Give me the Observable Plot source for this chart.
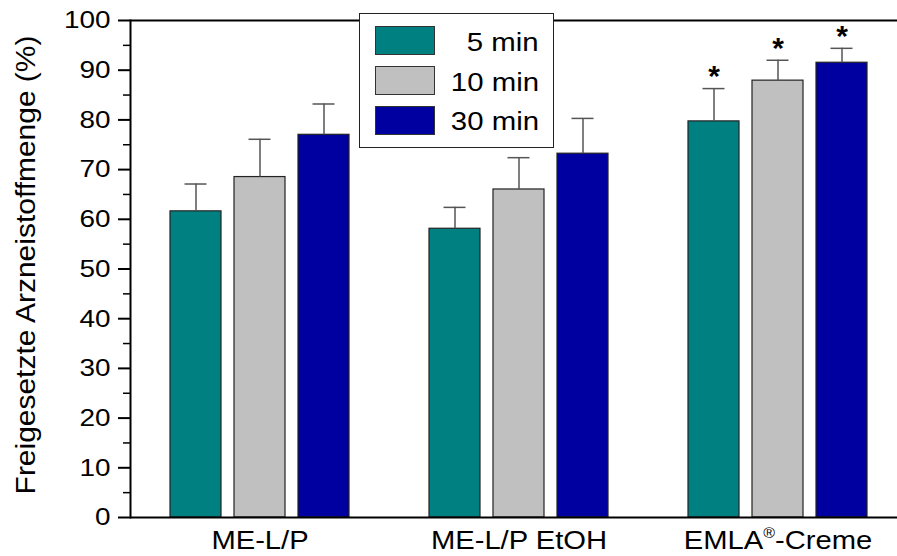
<!DOCTYPE html>
<html><head><meta charset="utf-8">
<script src="https://cdn.jsdelivr.net/npm/d3@7"></script>
<script src="https://cdn.jsdelivr.net/npm/@observablehq/plot@0.6"></script>
<style>
body{margin:0;background:#fff;font-family:"Liberation Sans",Arial,sans-serif;}
#wrap{position:relative;width:897px;height:556px;overflow:hidden;}
#legend{position:absolute;left:359px;top:13px;width:195px;height:135px;background:#fff;border:1.5px solid #222;box-sizing:border-box;}
.sw{position:absolute;left:15px;width:60px;height:29px;box-sizing:border-box;border:1.2px solid #333;}
.lb{position:absolute;right:14px;font-size:26px;line-height:30px;color:#000;transform:scaleX(1.13);transform-origin:right center;white-space:nowrap;}
</style></head>
<body>
<div id="wrap"><div id="legend"></div></div>
<script>
const groups = ["ME-L/P", "ME-L/P EtOH", "EMLA®-Creme"];
const times = ["5 min", "10 min", "30 min"];
const colors = ["#008080", "#C0C0C0", "#0000A0"];
const mean5 = [61.6, 58.1, 79.7];
const mean10 = [68.5, 66.0, 87.9];
const mean30 = [77.0, 73.2, 91.5];
const sd5 = [5.5, 4.3, 6.6];
const sd10 = [7.6, 6.4, 4.1];
const sd30 = [6.2, 7.1, 2.9];
const significant = [false, false, true];
const majorTicks = [0, 10, 20, 30, 40, 50, 60, 70, 80, 90, 100];
const minorTicks = [5, 15, 25, 35, 45, 55, 65, 75, 85, 95];
const yLabel = "Freigesetzte Arzneistoffmenge (%)";

const means = [mean5, mean10, mean30];
const sds = [sd5, sd10, sd30];
const rows = groups.flatMap((g, i) => times.map((t, j) => ({
  group: g, time: t, mean: means[j][i], top: means[j][i] + sds[j][i], sig: significant[i]
})));

const chart = Plot.plot({
  width: 897, height: 556,
  marginLeft: 130, marginRight: 0, marginTop: 20, marginBottom: 39,
  style: {fontFamily: '"Liberation Sans", Arial, sans-serif', fontSize: "24.5px", color: "#000", background: "#fff", overflow: "visible"},
  fx: {domain: groups, range: [130, 907], padding: 0},
  x: {domain: times, paddingInner: 0.21, paddingOuter: 0.613, axis: null},
  y: {domain: [0, 100]},
  color: {domain: times, range: colors},
  marks: [
    Plot.barY(rows, {fx: "group", x: "time", y: "mean", fill: "time", stroke: "#222", strokeWidth: 1.2}),
    Plot.ruleX(rows, {fx: "group", x: "time", y1: "mean", y2: "top", stroke: "#555", strokeWidth: 1.5}),
    Plot.tickY(rows, {fx: "group", x: "time", y: "top", stroke: "#555", strokeWidth: 1.5, insetLeft: 14.5, insetRight: 14.5}),
    Plot.text(rows.filter(d => d.sig), {fx: "group", x: "time", y: "top", text: () => "*", dy: -12, fontWeight: "bold", fontSize: 30}),
    Plot.axisY({ticks: majorTicks, tickSize: 12, tickPadding: 8, strokeWidth: 2, label: yLabel, labelAnchor: "center", labelOffset: 115, labelArrow: "none"}),
    Plot.axisY({ticks: minorTicks, tickSize: 7, strokeWidth: 1.5, text: null, label: null}),
    Plot.axisFx({anchor: "bottom", tickSize: 0, tickPadding: 13, fontSize: 25.6, label: null}),
    Plot.frame({anchor: "left", strokeWidth: 2, facetAnchor: "left"}),
    Plot.ruleY([0], {strokeWidth: 2}),
    Plot.ruleY([100], {strokeWidth: 2})
  ]
});

d3.select(chart).selectAll("text").filter(function() { return this.textContent === "EMLA®-Creme"; })
  .each(function() {
    const el = d3.select(this);
    el.text(null);
    el.append("tspan").text("EMLA");
    el.append("tspan").attr("dy", -11).attr("font-size", "14px").text("®");
    el.append("tspan").attr("dy", 11).text("-Creme");
  });

const wrap = document.getElementById("wrap");
wrap.insertBefore(chart, wrap.firstChild);

// the reference font is wider than Arial: stretch glyphs horizontally about each text's anchor
d3.select(chart).selectAll("text").each(function() {
  if (this.textContent === "*") return;
  let factor = 1.14;
  if (this.textContent === yLabel) {
    this.setAttribute("font-size", "28px");
    this.setAttribute("dx", "4");
    factor = 1.07;
  }
  const bb = this.getBBox();
  if (!bb.width) return;
  const anchor = getComputedStyle(this).textAnchor;
  const ax = anchor === "middle" ? bb.x + bb.width / 2 : anchor === "end" ? bb.x + bb.width : bb.x;
  const prev = this.getAttribute("transform") || "";
  this.setAttribute("transform", `${prev} translate(${ax},0) scale(${factor},1) translate(${-ax},0)`.trim());
});

const legend = document.getElementById("legend");
times.forEach((t, i) => {
  const sw = document.createElement("div");
  sw.className = "sw";
  sw.style.top = (12 + i * 40) + "px";
  sw.style.background = colors[i];
  legend.appendChild(sw);
  const lb = document.createElement("div");
  lb.className = "lb";
  lb.style.top = (13 + i * 39.5) + "px";
  lb.textContent = t;
  legend.appendChild(lb);
});
</script>
</body></html>
